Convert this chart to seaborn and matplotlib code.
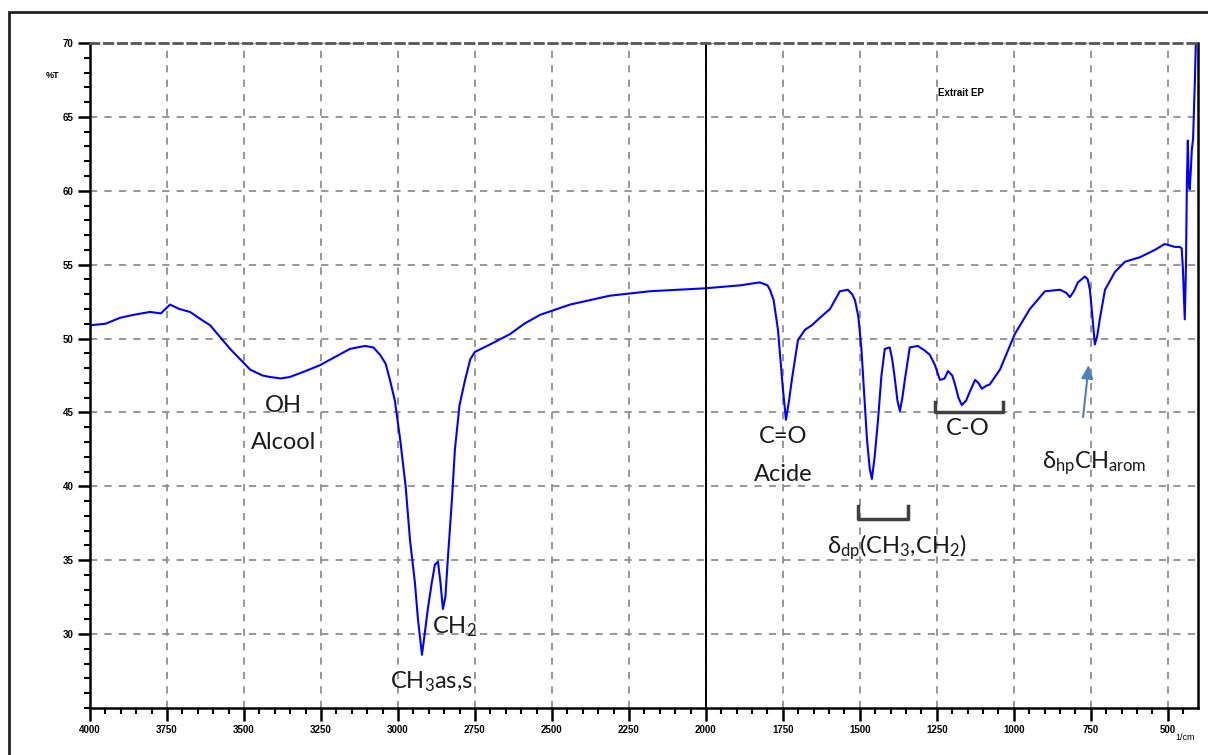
import numpy as np
import pandas as pd
import seaborn as sns
import matplotlib.pyplot as plt
from matplotlib.ticker import MultipleLocator
from matplotlib.transforms import blended_transform_factory
from matplotlib.patches import Rectangle

plt.rcParams['mathtext.default'] = 'regular'

# IR spectrum (wavenumber in 1/cm, transmittance in %T)
wavenumber = [4000, 3950, 3903, 3860, 3805, 3770, 3740, 3710, 3675, 3640, 3610,
              3545, 3480, 3440, 3416, 3380, 3351, 3300, 3253, 3200, 3156, 3107,
              3080, 3058, 3040, 3026, 3010, 2993, 2975, 2961, 2945, 2935, 2922,
              2912, 2903, 2890, 2880, 2870, 2862, 2854, 2846, 2838, 2825, 2815,
              2800, 2782, 2765, 2750, 2701, 2636, 2590, 2539, 2441, 2312, 2182,
              2003, 1889, 1825, 1800, 1792, 1780, 1766, 1750, 1740, 1730, 1721,
              1701, 1678, 1656, 1630, 1597, 1565, 1539, 1525, 1516, 1505, 1495,
              1477, 1468, 1461, 1452, 1441, 1430, 1419, 1403, 1395, 1386, 1378,
              1370, 1362, 1354, 1338, 1312, 1290, 1273, 1256, 1240, 1225, 1214,
              1200, 1191, 1180, 1169, 1155, 1143, 1126, 1115, 1104, 1090, 1078,
              1045, 997, 948, 899, 850, 830, 818, 805, 792, 769, 760, 753, 745,
              737, 729, 721, 704, 672, 639, 591, 542, 510, 477, 461, 455, 451,
              448, 445, 441, 438, 435, 432, 429, 425, 422, 418, 415, 412, 409]
transmittance = [50.9, 51.0, 51.4, 51.6, 51.8, 51.7, 52.3, 52.0, 51.8, 51.3, 50.9,
                 49.3, 47.9, 47.5, 47.4, 47.3, 47.4, 47.8, 48.2, 48.8, 49.3, 49.5,
                 49.4, 48.9, 48.3, 47.2, 45.8, 43.2, 40.0, 36.4, 33.5, 31.0, 28.6,
                 30.2, 31.7, 33.5, 34.7, 34.9, 33.5, 31.7, 32.5, 35.1, 39.0, 42.5,
                 45.5, 47.2, 48.6, 49.1, 49.6, 50.3, 51.0, 51.6, 52.3, 52.9, 53.2,
                 53.4, 53.6, 53.8, 53.6, 53.3, 52.6, 50.6, 46.6, 44.5, 45.8, 47.2,
                 49.9, 50.6, 50.9, 51.4, 52.0, 53.2, 53.3, 53.0, 52.6, 51.5, 49.3,
                 43.2, 41.2, 40.5, 42.0, 44.5, 47.5, 49.3, 49.4, 48.6, 47.2, 45.8,
                 45.1, 46.0, 47.2, 49.4, 49.5, 49.2, 48.9, 48.2, 47.2, 47.3, 47.8,
                 47.5, 46.9, 46.0, 45.5, 45.8, 46.4, 47.2, 47.0, 46.6, 46.8, 46.9,
                 47.9, 50.3, 52.0, 53.2, 53.3, 53.1, 52.8, 53.2, 53.8, 54.2, 54.0,
                 53.3, 51.5, 49.6, 50.2, 51.3, 53.3, 54.5, 55.2, 55.5, 56.0, 56.4,
                 56.2, 56.2, 56.1, 54.7, 53.0, 51.3, 55.0, 60.7, 63.4, 60.6, 60.1,
                 61.5, 62.8, 63.5, 65.5, 67.5, 70.0]

spec = pd.DataFrame({'wavenumber': wavenumber, 'T': transmittance})

fig = plt.figure(figsize=(12.08, 7.55), dpi=100)
ax = fig.add_axes([90/1208, 47/755, 1108/1208, 665/755])

sns.lineplot(data=spec, x='wavenumber', y='T', ax=ax, color='#0000ff',
             linewidth=1.5, sort=False, estimator=None)

ax.set_xlim(4000, 402)
ax.set_ylim(25, 70)
ax.xaxis.set_minor_locator(MultipleLocator(50))
ax.yaxis.set_minor_locator(MultipleLocator(1))
ax.set_yticks(range(30, 71, 5))
ax.set_xticks(range(4000, 499, -250))

ax.grid(True, which='major', color='#8f8f8f', linestyle=(0, (4, 4)), linewidth=1.3)
ax.tick_params(which='major', length=9, width=1.8, labelsize=7, pad=3)
ax.tick_params(which='minor', length=4, width=1.5)
for lab in ax.get_xticklabels() + ax.get_yticklabels():
    lab.set_fontweight('bold')
    lab.set_family('Liberation Sans')

for s in ['left', 'bottom', 'right']:
    ax.spines[s].set_linewidth(1.8)
ax.spines['top'].set_linestyle((0, (3, 2)))
ax.spines['top'].set_color('#555555')
ax.spines['top'].set_linewidth(2)
ax.set_xlabel('')
ax.set_ylabel('')

ax.axvline(2000, color='black', linewidth=1.4)

ytr = blended_transform_factory(ax.transAxes, ax.transData)
ax.text(-0.034, 67.8, '%T', transform=ytr, fontsize=6.5, fontweight='bold',
        ha='center', va='center', family='Liberation Sans')
ax.text(0.988, -0.045, '1/cm', transform=ax.transAxes, fontsize=6.5,
        ha='center', va='center', family='Liberation Sans')
ax.text(1247, 66.6, 'Extrait EP', fontsize=7, fontweight='bold',
        ha='left', va='center', family='Liberation Sans')

# band labels
lab_kw = dict(fontsize=17, family='Lato', color='#1a1a1a', ha='center', va='center')
ax.text(3373, 45.5, 'OH', **lab_kw)
ax.text(3373, 43.0, 'Alcool', **lab_kw)
ax.text(1750, 43.4, 'C=O', **lab_kw)
ax.text(1750, 40.8, 'Acide', **lab_kw)
ax.text(2890, 30.5, 'CH$_2$', fontsize=17, family='Lato', color='#1a1a1a',
        ha='left', va='center')
ax.text(2890, 26.8, 'CH$_3$as,s', **lab_kw)
ax.text(1149, 43.9, 'C-O', **lab_kw)
ax.text(1380, 35.9, 'δ$_{dp}$(CH$_3$,CH$_2$)', **lab_kw)
ax.text(740, 41.6, 'δ$_{hp}$CH$_{arom}$', **lab_kw)

# brackets
br_kw = dict(color='#404040', linewidth=2.5)
ax.plot([1256, 1256, 1036, 1036], [45.7, 45.0, 45.0, 45.7], **br_kw)
ax.plot([1506, 1506, 1344, 1344], [38.7, 37.8, 37.8, 38.7], **br_kw)

ax.annotate('', xy=(756, 48.4), xytext=(776, 44.5),
            arrowprops=dict(arrowstyle='-|>,head_length=0.8,head_width=0.35',
                            color='#4f81bd', linewidth=1.5))

# outer frame of the original figure
fig.patches.append(Rectangle((9/1208, -0.1), 1.2, 1.1 - 12/755,
                             transform=fig.transFigure, fill=False,
                             edgecolor='#222222', linewidth=2))

fig.savefig('out.png', dpi=100)
